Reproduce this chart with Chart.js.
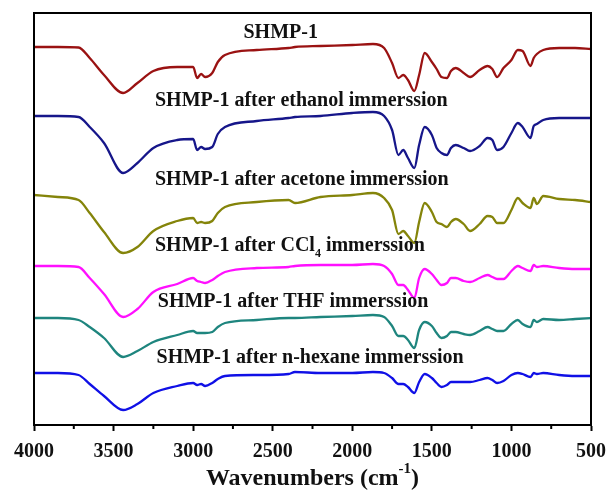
<!DOCTYPE html>
<html>
<head>
<meta charset="utf-8">
<script src="https://cdn.jsdelivr.net/npm/chart.js@4.4.1/dist/chart.umd.min.js"></script>
<style>
  html, body { margin: 0; padding: 0; background: #fff; }
  #wrap { width: 612px; height: 493px; }
</style>
</head>
<body>
<div id="wrap"><canvas id="ftir"></canvas></div>
<script>
// FTIR spectra of SHMP-1 before / after solvent immersion (stacked, offset a.u.)
const wavenumbers = [4000, 3850, 3720, 3650, 3560, 3440, 3350, 3250, 3100, 3000, 2975, 2950, 2925, 2880, 2845, 2800, 2600, 2400, 2360, 2200, 2000, 1870, 1800, 1750, 1710, 1680, 1650, 1610, 1580, 1545, 1500, 1470, 1440, 1405, 1380, 1350, 1300, 1260, 1200, 1150, 1120, 1090, 1050, 1000, 960, 930, 880, 860, 840, 800, 700, 600, 500];

const shmp = [378, 378, 377.5, 367, 350, 332, 342, 354, 358, 358, 347, 351, 348, 352, 363, 370, 375, 377, 378, 379, 380, 381, 377, 362, 347, 350, 345, 334, 350, 372, 363, 356, 348, 347, 354, 357, 352, 348, 355, 359, 356, 348, 357, 365, 375, 374, 359, 367, 371, 375, 377, 377, 376];
const ethanol = [309, 309, 308, 298, 282, 252, 262, 277, 285, 286, 275, 278, 276, 278, 291, 298, 304, 307, 308, 309, 312, 313, 309, 295, 270, 275, 267, 257, 280, 298, 290, 277, 272, 270, 277, 280, 277, 274, 279, 287, 285, 275, 278, 292, 302, 298, 287, 299, 301, 305, 307, 307, 307];
const acetone = [230, 228, 225, 212, 193, 172, 178, 194, 204, 207, 202, 203, 202, 204, 212, 218, 223, 225, 222, 228, 230, 232, 227, 215, 191, 194, 189, 182, 203, 222, 213, 203, 201, 198, 203, 206, 201, 194, 201, 209, 208, 202, 202, 215, 227, 222, 217, 227, 221, 229, 226, 225, 223];
const ccl4 = [159, 159, 158, 147, 131, 108, 116, 133, 141, 147, 144, 143, 142, 145, 149, 153, 157, 158, 159, 160, 160, 161, 159, 151, 140, 140, 135, 127, 147, 156, 151, 145, 140, 142, 147, 147, 144, 143, 147, 150, 148, 146, 146, 154, 159, 157, 154, 160, 158, 159, 157, 156, 156];
const thf = [107, 107, 105, 98, 87, 68, 74, 83, 90, 94, 92, 92, 92, 93, 98, 102, 105, 107, 107, 108, 109, 110, 108, 99, 89, 89, 85, 77, 95, 103, 99, 92, 87, 89, 93, 93, 91, 90, 94, 98, 96, 94, 94, 101, 105, 101, 98, 105, 103, 106, 105, 106, 107];
const hexane = [52, 52, 50, 41, 29, 15, 21, 32, 39, 42, 40, 41, 39, 42, 46, 49, 50, 51, 53, 52, 52, 53, 52, 47, 41, 41, 38, 32, 43, 51, 47, 42, 38, 40, 43, 43, 43, 43, 45, 47, 45, 42, 44, 50, 52, 51, 48, 52, 51, 52, 50, 49, 49];

const xTicks = [4000, 3500, 3000, 2500, 2000, 1500, 1000, 500];

const SERIF = "'Liberation Serif', 'Times New Roman', serif";

const series = [
    { data: shmp, color: "#9a1212" },
    { data: ethanol, color: "#16168a" },
    { data: acetone, color: "#84840a" },
    { data: ccl4, color: "#ff10ff" },
    { data: thf, color: "#1e857e" },
    { data: hexane, color: "#1010e6" },
];

// text next to each trace: pieces with optional sub/superscript
const traceLabels = [
    { wn: 2450, y: 392, align: "center", parts: [["SHMP-1"]] },
    { wn: 3240, y: 324, align: "left", parts: [["SHMP-1 after ethanol immerssion"]] },
    { wn: 3240, y: 245, align: "left", parts: [["SHMP-1 after acetone immerssion"]] },
    { wn: 3240, y: 179, align: "left", parts: [["SHMP-1 after CCl"], ["4", "sub"], [" immerssion"]] },
    { wn: 3222, y: 123, align: "left", parts: [["SHMP-1 after THF immerssion"]] },
    { wn: 3230, y: 67, align: "left", parts: [["SHMP-1 after n-hexane immerssion"]] },
];

function drawParts(ctx, parts, x, y, size, align) {
    const big = `bold ${size}px ${SERIF}`;
    const small = `bold ${Math.round(size * 0.62)}px ${SERIF}`;
    let total = 0;
    parts.forEach(([t, kind]) => {
        ctx.font = kind ? small : big;
        total += ctx.measureText(t).width;
    });
    let cx = align === "center" ? x - total / 2 : x;
    ctx.textBaseline = "middle";
    ctx.textAlign = "left";
    parts.forEach(([t, kind]) => {
        ctx.font = kind ? small : big;
        let dy = 0;
        if (kind === "sub") dy = size * 0.38;
        if (kind === "sup") dy = -size * 0.4;
        ctx.fillText(t, cx, y + dy);
        cx += ctx.measureText(t).width;
    });
}

const decorations = {
    id: "decorations",
    afterDraw(chart) {
        const { ctx, chartArea: a, scales } = chart;
        const x = scales.x, y = scales.y;
        ctx.save();

        // frame
        ctx.strokeStyle = "#000";
        ctx.lineWidth = 2;
        ctx.strokeRect(a.left, a.top, a.right - a.left, a.bottom - a.top);

        // minor ticks halfway between labelled ones
        for (let i = 0; i < xTicks.length - 1; i++) {
            const px = x.getPixelForValue((xTicks[i] + xTicks[i + 1]) / 2);
            ctx.beginPath();
            ctx.moveTo(px, a.bottom);
            ctx.lineTo(px, a.bottom + 4);
            ctx.stroke();
        }

        // trace labels
        ctx.fillStyle = "#111";
        traceLabels.forEach((l) => {
            drawParts(ctx, l.parts, x.getPixelForValue(l.wn), y.getPixelForValue(l.y), 20, l.align);
        });

        // axis title
        drawParts(ctx, [["Wavenumbers (cm"], ["-1", "sup"], [")"]], (a.left + a.right) / 2, 479, 24, "center");
        ctx.restore();
    },
};

new Chart(document.getElementById("ftir"), {
    type: "line",
    data: {
        datasets: series.map((s) => ({
            data: wavenumbers.map((w, i) => ({ x: w, y: s.data[i] })),
            borderColor: s.color,
            borderWidth: 2.3,
            pointRadius: 0,
            fill: false,
            cubicInterpolationMode: "monotone",
        })),
    },
    options: {
        responsive: true,
        maintainAspectRatio: false,
        animation: false,
        layout: { padding: { left: 34, right: 21, top: 13, bottom: 0 } },
        plugins: {
            legend: { display: false },
            tooltip: { enabled: false },
        },
        scales: {
            x: {
                type: "linear",
                reverse: true,
                min: 500,
                max: 4000,
                afterBuildTicks: (scale) => {
                    scale.ticks = xTicks.map((v) => ({ value: v }));
                },
                afterFit: (scale) => {
                    scale.height = 68;
                    // edge labels may hang into the page margin
                    scale.paddingLeft = 0;
                    scale.paddingRight = 0;
                },
                grid: {
                    drawOnChartArea: false,
                    tickLength: 6,
                    tickWidth: 2,
                    tickColor: "#000",
                },
                border: { display: true, color: "#000", width: 2 },
                ticks: {
                    color: "#111",
                    padding: 9,
                    maxRotation: 0,
                    autoSkip: false,
                    callback: (v) => String(v),
                    font: { family: SERIF, size: 20, weight: "bold" },
                },
            },
            y: {
                display: false,
                min: 0,
                max: 412,
            },
        },
    },
    plugins: [decorations],
});
</script>
</body>
</html>
